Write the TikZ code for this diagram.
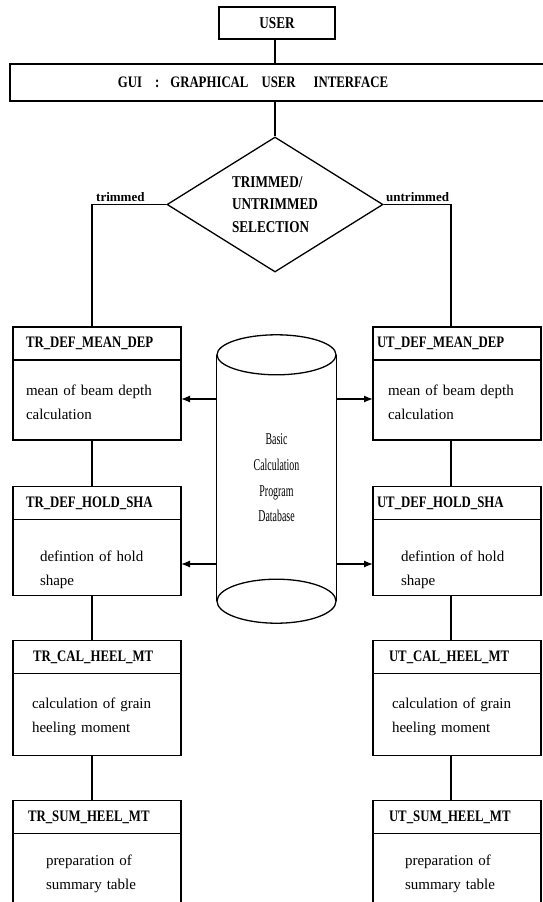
\documentclass[tikz,border=0pt]{standalone}
\usepackage{fontspec}
\setmainfont{Liberation Serif}
\newfontfamily\hdrfont[FakeStretch=0.8]{Liberation Serif}
\newfontfamily\dbfont[FakeStretch=0.6]{Liberation Serif}
\usetikzlibrary{arrows.meta,positioning,shapes.geometric}
\tikzset{
  userv/.style={rectangle,draw,line width=1.3pt,minimum width=116pt,minimum height=32pt,inner sep=0pt,font=\hdrfont\bfseries\fontsize{16.5}{19}\selectfont},
  guiv/.style={rectangle,draw,line width=1.3pt,minimum width=540pt,minimum height=37pt,inner sep=0pt,font=\hdrfont\bfseries\fontsize{16}{19}\selectfont},
  choice/.style={diamond,draw,line width=1.3pt,aspect=1.6,minimum width=216pt,minimum height=135pt,inner sep=0pt,align=left,font=\hdrfont\bfseries\fontsize{16.5}{22.5}\selectfont},
  headv/.style={rectangle,draw,line width=1.3pt,minimum width=168pt,minimum height=33pt,inner sep=0pt,outer sep=0pt,text width=#1,align=left,font=\hdrfont\bfseries\fontsize{16}{19}\selectfont},
  bodyv/.style={rectangle,draw,line width=1.3pt,minimum width=168pt,inner sep=0pt,outer sep=0pt,text width=#1,align=left,font=\fontsize{15}{24}\selectfont},
  dbv/.style={rectangle,minimum width=119pt,minimum height=246pt,inner sep=0pt,align=center,font=\dbfont\fontsize{16.5}{25.7}\selectfont},
  wire/.style={line width=1.3pt},
  feed/.style={line width=1.3pt,-{Latex[length=9pt,width=7pt]}},
  lab/.style={font=\bfseries\fontsize{13}{15}\selectfont,inner sep=0pt},
}
\begin{document}
\begin{tikzpicture}[x=1pt,y=-1pt]
  \useasboundingbox (0,0) rectangle (542,902);
  % top of the chart
  \node[userv] (user) at (277,23) {USER};
  \node[guiv] (gui) at (280,82.5) {GUI\hspace{13pt}:\hspace{11pt}GRAPHICAL\hspace{13pt}USER\hspace{18pt}INTERFACE\hspace*{54pt}};
  \node[choice] (sel) at (275,204.5) {TRIMMED/\\UNTRIMMED\\SELECTION};
  \node[lab,anchor=base west] (trlab) at (96,201) {trimmed};
  \node[lab,anchor=base west] (utlab) at (386,201) {untrimmed};
  % trimmed column
  \node[headv=142pt] (trmeanh) at (97,343.5) {TR\_DEF\_MEAN\_DEP};
  \node[bodyv=142pt,minimum height=80pt,below=0pt of trmeanh] (trmeanb) {\rule{0pt}{15pt}mean of beam depth\\calculation};
  \node[headv=142pt] (trholdh) at (97,503) {TR\_DEF\_HOLD\_SHA};
  \node[bodyv=114pt,minimum height=76pt,below=0pt of trholdh] (trholdb) {\rule{0pt}{35pt}defintion of hold\\shape};
  \node[headv=128pt] (trcalh) at (97,657) {TR\_CAL\_HEEL\_MT};
  \node[bodyv=130pt,minimum height=82pt,below=0pt of trcalh] (trcalb) {\rule{0pt}{15pt}calculation of grain\\heeling moment};
  \node[headv=138pt] (trsumh) at (97,817) {TR\_SUM\_HEEL\_MT};
  \node[bodyv=102pt,minimum height=70pt,below=0pt of trsumh] (trsumb) {\rule{0pt}{21pt}preparation of\\summary table};
  % untrimmed column
  \node[headv=160pt] (utmeanh) at (457,343.5) {UT\_DEF\_MEAN\_DEP};
  \node[bodyv=138pt,minimum height=80pt,below=0pt of utmeanh] (utmeanb) {\rule{0pt}{15pt}mean of beam depth\\calculation};
  \node[headv=160pt] (utholdh) at (457,503) {UT\_DEF\_HOLD\_SHA};
  \node[bodyv=112pt,minimum height=76pt,below=0pt of utholdh] (utholdb) {\rule{0pt}{35pt}defintion of hold\\shape};
  \node[headv=136pt] (utcalh) at (457,657) {UT\_CAL\_HEEL\_MT};
  \node[bodyv=130pt,minimum height=82pt,below=0pt of utcalh] (utcalb) {\rule{0pt}{15pt}calculation of grain\\heeling moment};
  \node[headv=136pt] (utsumh) at (457,817) {UT\_SUM\_HEEL\_MT};
  \node[bodyv=104pt,minimum height=70pt,below=0pt of utsumh] (utsumb) {\rule{0pt}{21pt}preparation of\\summary table};
  % database
  \node[dbv] (db) at (276.5,478) {Basic\\Calculation\\Program\\Database};
  \draw[wire] (db.north west) -- (db.south west) (db.north east) -- (db.south east);
  \draw[wire] (db.north) ellipse [x radius=59.5pt,y radius=20pt];
  \draw[wire] (db.south) ellipse [x radius=59.5pt,y radius=22pt];
  \coordinate (lcol) at (92,0);
  \coordinate (rcol) at (451,0);
  \coordinate (fmean) at (0,399);
  \coordinate (fhold) at (0,564);
  % connectors
  \draw[wire] (user.south -| sel.north) -- (gui.north -| sel.north);
  \draw[wire] (gui.south -| sel.north) -- (sel.north);
  \draw[wire] (sel.west) -| (trmeanh.north -| lcol);
  \draw[wire] (sel.east) -| (utmeanh.north -| rcol);
  \draw[wire] (trmeanb.south -| lcol) -- (trholdh.north -| lcol);
  \draw[wire] (trholdb.south -| lcol) -- (trcalh.north -| lcol);
  \draw[wire] (trcalb.south -| lcol) -- (trsumh.north -| lcol);
  \draw[wire] (utmeanb.south -| rcol) -- (utholdh.north -| rcol);
  \draw[wire] (utholdb.south -| rcol) -- (utcalh.north -| rcol);
  \draw[wire] (utcalb.south -| rcol) -- (utsumh.north -| rcol);
  \draw[feed] (db.west |- fmean) -- (trmeanb.east |- fmean);
  \draw[feed] (db.west |- fhold) -- (trholdb.east |- fhold);
  \draw[feed] (db.east |- fmean) -- (utmeanb.west |- fmean);
  \draw[feed] (db.east |- fhold) -- (utholdb.west |- fhold);
\end{tikzpicture}
\end{document}
